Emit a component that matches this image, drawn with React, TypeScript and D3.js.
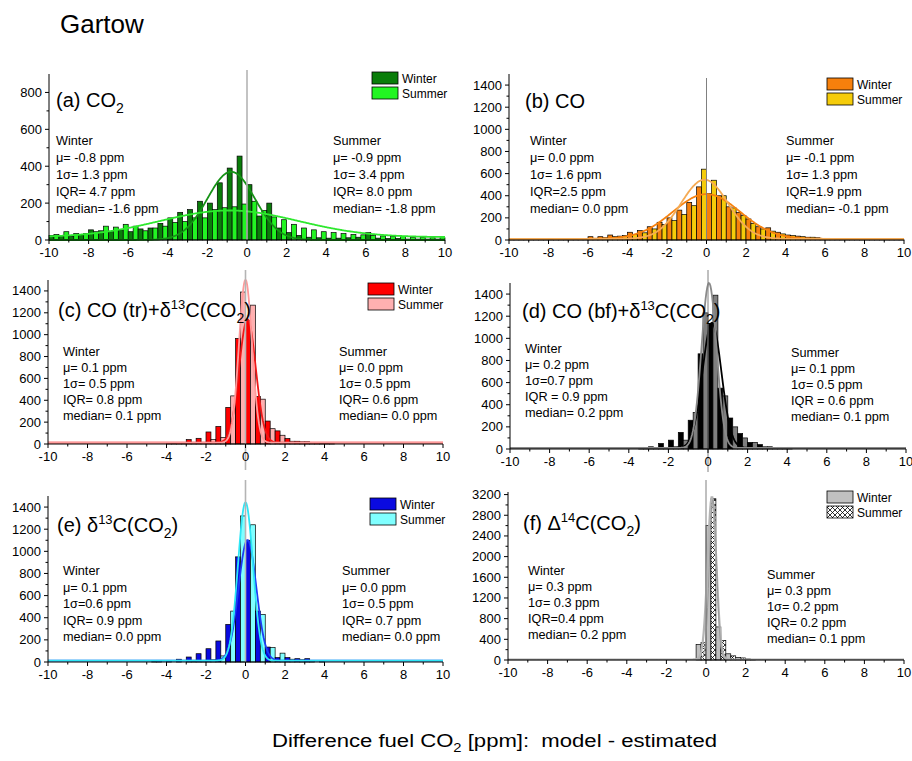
import React from 'react';
import { scaleLinear, range, line } from 'd3';

// bins of 0.5 ppm; winter bar in the left half, summer bar in the right half
const BIN_STARTS = range(-10, 10, 0.5);

const aWinter = [25, 20, 20, 30, 55, 50, 45, 55, 45, 60, 65, 90, 120, 150, 165, 210, 200, 310, 390, 455,
  300, 130, 200, 65, 40, 25, 15, 12, 10, 10, 12, 15, 40, 10, 8, 8, 5, 5, 5, 5];
const aSummer = [30, 45, 35, 35, 45, 75, 70, 85, 75, 50, 65, 75, 95, 100, 120, 120, 165, 175, 180, 195,
  210, 160, 125, 110, 85, 65, 55, 45, 40, 35, 30, 28, 25, 22, 20, 18, 15, 15, 12, 12];

const bWinter = [3, 3, 3, 3, 5, 8, 8, 10, 30, 30, 45, 35, 70, 85, 120, 160, 200, 270, 340, 480,
  420, 400, 300, 250, 190, 120, 110, 70, 45, 35, 25, 20, 15, 8, 5, 5, 3, 3, 3, 3];
const bSummer = [3, 3, 3, 3, 3, 5, 5, 8, 15, 20, 30, 40, 50, 65, 100, 140, 175, 230, 310, 640,
  540, 400, 290, 220, 150, 100, 80, 55, 40, 30, 25, 15, 12, 8, 5, 3, 3, 3, 3, 3];

const cWinter = [0, 0, 0, 0, 0, 0, 0, 0, 0, 0, 0, 0, 10, 15, 40, 52, 110, 160, 335, 966,
  1130, 435, 210, 120, 50, 25, 20, 12, 5, 0, 0, 0, 0, 0, 0, 0, 0, 0, 0, 0];
const cSummer = [0, 0, 0, 0, 0, 0, 0, 0, 0, 0, 0, 0, 5, 8, 10, 15, 40, 60, 440, 1390,
  1270, 410, 140, 80, 25, 20, 10, 5, 3, 0, 0, 0, 0, 0, 0, 0, 0, 0, 0, 0];

const dWinter = [0, 0, 0, 0, 0, 0, 0, 0, 0, 0, 0, 0, 0, 15, 20, 50, 80, 150, 260, 860,
  1130, 550, 280, 140, 60, 40, 20, 15, 15, 0, 0, 0, 0, 0, 0, 0, 0, 0, 0, 0];
const dSummer = [0, 0, 0, 0, 0, 0, 0, 0, 0, 0, 0, 0, 0, 10, 10, 15, 20, 80, 330, 1230,
  1390, 480, 200, 100, 60, 20, 10, 5, 0, 0, 0, 0, 0, 0, 0, 0, 0, 0, 0, 0];

const eWinter = [0, 0, 0, 0, 0, 0, 0, 0, 0, 0, 0, 15, 15, 25, 45, 75, 120, 190, 340, 950,
  1100, 460, 135, 40, 40, 30, 30, 0, 0, 0, 0, 0, 0, 0, 0, 0, 0, 0, 0, 0];
const eSummer = [0, 0, 0, 0, 0, 0, 0, 0, 0, 0, 5, 0, 0, 0, 5, 10, 20, 55, 460, 1320,
  1240, 430, 130, 80, 25, 20, 10, 10, 0, 0, 0, 0, 0, 0, 0, 0, 0, 0, 0, 0];

const fWinter = [0, 0, 0, 0, 0, 0, 0, 0, 0, 0, 0, 0, 0, 0, 0, 0, 0, 0, 0, 300,
  2600, 640, 120, 50, 20, 0, 0, 0, 0, 0, 0, 0, 0, 0, 0, 0, 0, 0, 0, 0];
const fSummer = [0, 0, 0, 0, 0, 0, 0, 0, 0, 0, 0, 0, 0, 0, 0, 0, 0, 0, 0, 340,
  3120, 380, 80, 40, 10, 0, 0, 0, 0, 0, 0, 0, 0, 0, 0, 0, 0, 0, 0, 0];

// gaussian fit parameters: [centre, sigma, amplitude, offset]
const aFitW = [-0.8, 1.2, 370, 0];
const aFitS = [-0.9, 3.5, 145, 15];
const bFitW = [0.0, 1.7, 405, 10];
const bFitS = [-0.1, 1.18, 535, 10];
const cFitW = [0.1, 0.42, 1130, 12];
const cFitS = [0.0, 0.33, 1490, 12];
const dFitW = [0.2, 0.48, 1130, 10];
const dFitS = [0.05, 0.38, 1490, 10];
const eFitW = [0.1, 0.45, 1090, 12];
const eFitS = [0.0, 0.38, 1430, 12];
const fFitW = [0.3, 0.22, 3150, 10];
const fFitS = [0.35, 0.18, 3100, 10];

const X_TICKS = [-10, -8, -6, -4, -2, 0, 2, 4, 6, 8, 10];
const X_MINOR = [-9, -7, -5, -3, -1, 1, 3, 5, 7, 9];
const Y_TICKS_A = [0, 200, 400, 600, 800];
const Y_TICKS_B = [0, 200, 400, 600, 800, 1000, 1200, 1400];
const Y_TICKS_F = [0, 400, 800, 1200, 1600, 2000, 2400, 2800, 3200];

const aStatsW = ['Winter', 'μ= -0.8 ppm', '1σ= 1.3 ppm', 'IQR= 4.7 ppm', 'median= -1.6 ppm'];
const aStatsS = ['Summer', 'μ= -0.9 ppm', '1σ= 3.4 ppm', 'IQR= 8.0 ppm', 'median= -1.8 ppm'];
const bStatsW = ['Winter', 'μ= 0.0 ppm', '1σ= 1.6 ppm', 'IQR=2.5 ppm', 'median= 0.0 ppm'];
const bStatsS = ['Summer', 'μ= -0.1 ppm', '1σ= 1.3 ppm', 'IQR=1.9 ppm', 'median= -0.1 ppm'];
const cStatsW = ['Winter', 'μ= 0.1 ppm', '1σ= 0.5 ppm', 'IQR= 0.8 ppm', 'median= 0.1 ppm'];
const cStatsS = ['Summer', 'μ= 0.0 ppm', '1σ= 0.5 ppm', 'IQR= 0.6 ppm', 'median= 0.0 ppm'];
const dStatsW = ['Winter', 'μ= 0.2 ppm', '1σ=0.7 ppm', 'IQR = 0.9 ppm', 'median= 0.2 ppm'];
const dStatsS = ['Summer', 'μ= 0.1 ppm', '1σ= 0.5 ppm', 'IQR = 0.6 ppm', 'median= 0.1 ppm'];
const eStatsW = ['Winter', 'μ= 0.1 ppm', '1σ=0.6 ppm', 'IQR= 0.9 ppm', 'median= 0.0 ppm'];
const eStatsS = ['Summer', 'μ= 0.0 ppm', '1σ= 0.5 ppm', 'IQR= 0.7 ppm', 'median= 0.0 ppm'];
const fStatsW = ['Winter', 'μ= 0.3 ppm', '1σ= 0.3 ppm', 'IQR=0.4 ppm', 'median= 0.2 ppm'];
const fStatsS = ['Summer', 'μ= 0.3 ppm', '1σ= 0.2 ppm', 'IQR= 0.2 ppm', 'median= 0.1 ppm'];

const FONT = '"Liberation Sans", Arial, sans-serif';

const sup = (s: string) => <tspan dy={-8} fontSize={13}>{s}</tspan>;
const co2Tail = (
  <>
    <tspan dy={8}>C(CO</tspan><tspan dy={6} fontSize={14}>2</tspan><tspan dy={-6}>)</tspan>
  </>
);

const Panel = ({ p }: { p: any }) => {
  const x = scaleLinear().domain([-10, 10]).range([p.x0, p.x1]);
  const y = scaleLinear().domain([0, p.ymax]).range([p.yBase, p.yTop]);
  const grid = range(-10, 10.001, 0.04);
  const fitPath = (f: number[]) =>
    line<number>()
      .x(u => x(u))
      .y(u => y(f[3] + f[2] * Math.exp(-((u - f[0]) ** 2) / (2 * f[1] * f[1]))))(grid) || '';
  const yMinor = p.yTicks.slice(0, -1).map((t: number, i: number) => (t + p.yTicks[i + 1]) / 2);
  const lineH = p.statLine;

  return (
    <g fontFamily={FONT}>
      {BIN_STARTS.map((b, i) => (
        <g key={i}>
          {p.winter[i] > 0 && (
            <rect x={x(b)} y={y(p.winter[i])} width={x(b + 0.25) - x(b)} height={p.yBase - y(p.winter[i])}
              fill={p.wFill} stroke="#000" strokeWidth={0.7} />
          )}
          {p.summer[i] > 0 && (
            <rect x={x(b + 0.25)} y={y(p.summer[i])} width={x(b + 0.5) - x(b + 0.25)} height={p.yBase - y(p.summer[i])}
              fill={p.sFill} stroke="#000" strokeWidth={0.7} />
          )}
        </g>
      ))}
      <path d={fitPath(p.fitW)} fill="none" stroke={p.wLine} strokeWidth={p.wLineW || 1.8} />
      <path d={fitPath(p.fitS)} fill="none" stroke={p.sLine} strokeWidth={p.sLineW || 1.8} />
      <line x1={x(0)} x2={x(0)} y1={p.zTop} y2={p.zBottom} stroke={p.zColor} strokeWidth={p.zWidth} />

      {/* axes */}
      <line x1={p.x0} x2={p.x0} y1={p.yBase} y2={p.yTop} stroke="#000" strokeWidth={1} />
      <line x1={p.x0} x2={p.x1} y1={p.yBase} y2={p.yBase} stroke="#000" strokeWidth={1} />
      {p.yTicks.map((t: number) => (
        <g key={'y' + t}>
          <line x1={p.x0 - 4} x2={p.x0} y1={y(t)} y2={y(t)} stroke="#000" />
          <text x={p.x0 - 7} y={y(t) + 4.5} fontSize={13} textAnchor="end">{t}</text>
        </g>
      ))}
      {yMinor.map((t: number) => (
        <line key={'ym' + t} x1={p.x0 - 2.5} x2={p.x0} y1={y(t)} y2={y(t)} stroke="#000" />
      ))}
      {X_TICKS.map(t => (
        <g key={'x' + t}>
          <line x1={x(t)} x2={x(t)} y1={p.yBase} y2={p.yBase + 4} stroke="#000" />
          <text x={x(t)} y={p.yBase + 17} fontSize={13} textAnchor="middle">{t}</text>
        </g>
      ))}
      {X_MINOR.map(t => (
        <line key={'xm' + t} x1={x(t)} x2={x(t)} y1={p.yBase} y2={p.yBase + 2.5} stroke="#000" />
      ))}

      {/* panel title */}
      <text x={p.titleX} y={p.titleY} fontSize={20}>{p.title}</text>

      {/* statistics */}
      {p.statsW.map((s: string, i: number) => (
        <text key={'sw' + i} x={p.swX} y={p.swY + i * lineH} fontSize={12.7}>{s}</text>
      ))}
      {p.statsS.map((s: string, i: number) => (
        <text key={'ss' + i} x={p.ssX} y={p.ssY + i * lineH} fontSize={12.7}>{s}</text>
      ))}

      {/* legend */}
      {p.legend && (
        <g>
          <rect x={p.legend[0]} y={p.legend[1]} width={26} height={12} fill={p.wFill} stroke="#000" strokeWidth={0.8} />
          <text x={p.legend[0] + 30} y={p.legend[1] + 11} fontSize={12}>Winter</text>
          <rect x={p.legend[0]} y={p.legend[1] + 15} width={26} height={12} fill={p.sFill} stroke="#000" strokeWidth={0.8} />
          <text x={p.legend[0] + 30} y={p.legend[1] + 26} fontSize={12}>Summer</text>
        </g>
      )}
    </g>
  );
};

const panels = [
  {
    x0: 49, x1: 445, yBase: 240, yTop: 74, ymax: 900, yTicks: Y_TICKS_A,
    winter: aWinter, summer: aSummer, fitW: aFitW, fitS: aFitS,
    wFill: '#0a7d0a', sFill: '#22f522', wLine: '#169316', sLine: '#2ee82e',
    zTop: 70, zBottom: 240, zColor: '#b4b4b4', zWidth: 1.6,
    title: <>(a) CO<tspan dy={6} fontSize={14}>2</tspan></>, titleX: 56, titleY: 107,
    statsW: aStatsW, statsS: aStatsS, swX: 56, swY: 145, ssX: 333, ssY: 145, statLine: 17,
    legend: [372, 72],
  },
  {
    x0: 509, x1: 904, yBase: 240, yTop: 74, ymax: 1500, yTicks: Y_TICKS_B,
    winter: bWinter, summer: bSummer, fitW: bFitW, fitS: bFitS,
    wFill: '#f7800c', sFill: '#f5cc0a', wLine: '#f7820f', sLine: '#f5ab55',
    zTop: 78, zBottom: 240, zColor: '#808080', zWidth: 1,
    title: <>(b) CO</>, titleX: 525, titleY: 108,
    statsW: bStatsW, statsS: bStatsS, swX: 530, swY: 145, ssX: 786, ssY: 145, statLine: 17,
    legend: [827, 78],
  },
  {
    x0: 48, x1: 443, yBase: 444, yTop: 280, ymax: 1500, yTicks: Y_TICKS_B,
    winter: cWinter, summer: cSummer, fitW: cFitW, fitS: cFitS,
    wFill: '#ff0000', sFill: '#ffb0b0', wLine: '#f01818', sLine: '#ff9a9a',
    zTop: 270, zBottom: 470, zColor: '#b4b4b4', zWidth: 1.6,
    title: <>(c) CO (tr)+δ{sup('13')}{co2Tail}</>,
    titleX: 58, titleY: 317,
    statsW: cStatsW, statsS: cStatsS, swX: 63, swY: 356, ssX: 339, ssY: 356, statLine: 16,
    legend: [368, 283],
  },
  {
    x0: 510, x1: 906, yBase: 449, yTop: 283, ymax: 1500, yTicks: Y_TICKS_B,
    winter: dWinter, summer: dSummer, fitW: dFitW, fitS: dFitS,
    wFill: '#000000', sFill: '#7f7f7f', wLine: '#000000', sLine: '#8a8a8a',
    zTop: 270, zBottom: 472, zColor: '#808080', zWidth: 1,
    title: <>(d) CO (bf)+δ{sup('13')}{co2Tail}</>,
    titleX: 522, titleY: 318,
    statsW: dStatsW, statsS: dStatsS, swX: 525, swY: 353, ssX: 791, ssY: 357, statLine: 16,
    legend: null,
  },
  {
    x0: 48, x1: 443, yBase: 662, yTop: 496, ymax: 1500, yTicks: Y_TICKS_B,
    winter: eWinter, summer: eSummer, fitW: eFitW, fitS: eFitS,
    wFill: '#0a0ae0', sFill: '#80ffff', wLine: '#1d3cf5', sLine: '#2ee6f5',
    zTop: 480, zBottom: 662, zColor: '#b4b4b4', zWidth: 1.6,
    title: <>(e) δ{sup('13')}{co2Tail}</>,
    titleX: 57, titleY: 532,
    statsW: eStatsW, statsS: eStatsS, swX: 63, swY: 575, ssX: 342, ssY: 575, statLine: 16.5,
    legend: [370, 498],
  },
  {
    x0: 508, x1: 904, yBase: 660, yTop: 492, ymax: 3250, yTicks: Y_TICKS_F,
    winter: fWinter, summer: fSummer, fitW: fFitW, fitS: fFitS,
    wFill: '#c0c0c0', sFill: 'url(#xhatch)', wLine: '#b4b4b4', sLine: '#9a9a9a', wLineW: 2.2, sLineW: 1,
    zTop: 480, zBottom: 660, zColor: '#808080', zWidth: 1,
    title: <>(f) Δ{sup('14')}{co2Tail}</>,
    titleX: 523, titleY: 530,
    statsW: fStatsW, statsS: fStatsS, swX: 528, swY: 575, ssX: 767, ssY: 579, statLine: 16,
    legend: [827, 491],
  },
];

export default function App() {
  return (
    <svg width={912} height={761} style={{ position: 'absolute', left: 0, top: 0, background: '#fff' }}>
      <defs>
        <pattern id="xhatch" width={5} height={5} patternUnits="userSpaceOnUse">
          <rect width={5} height={5} fill="#fff" />
          <path d="M0,0 L5,5 M5,0 L0,5" stroke="#000" strokeWidth={0.8} />
        </pattern>
      </defs>
      <rect width={912} height={761} fill="#fff" />
      <text x={60} y={33} fontSize={26} fontFamily={FONT}>Gartow</text>
      {panels.map((p, i) => <Panel key={i} p={p} />)}
      <text x={272} y={747} fontSize={18} fontFamily={FONT} textLength={445} lengthAdjust="spacingAndGlyphs">
        Difference fuel CO<tspan dy={5} fontSize={12}>2</tspan><tspan dy={-5}>{' [ppm]:\u00a0 model - estimated'}</tspan>
      </text>
    </svg>
  );
}
